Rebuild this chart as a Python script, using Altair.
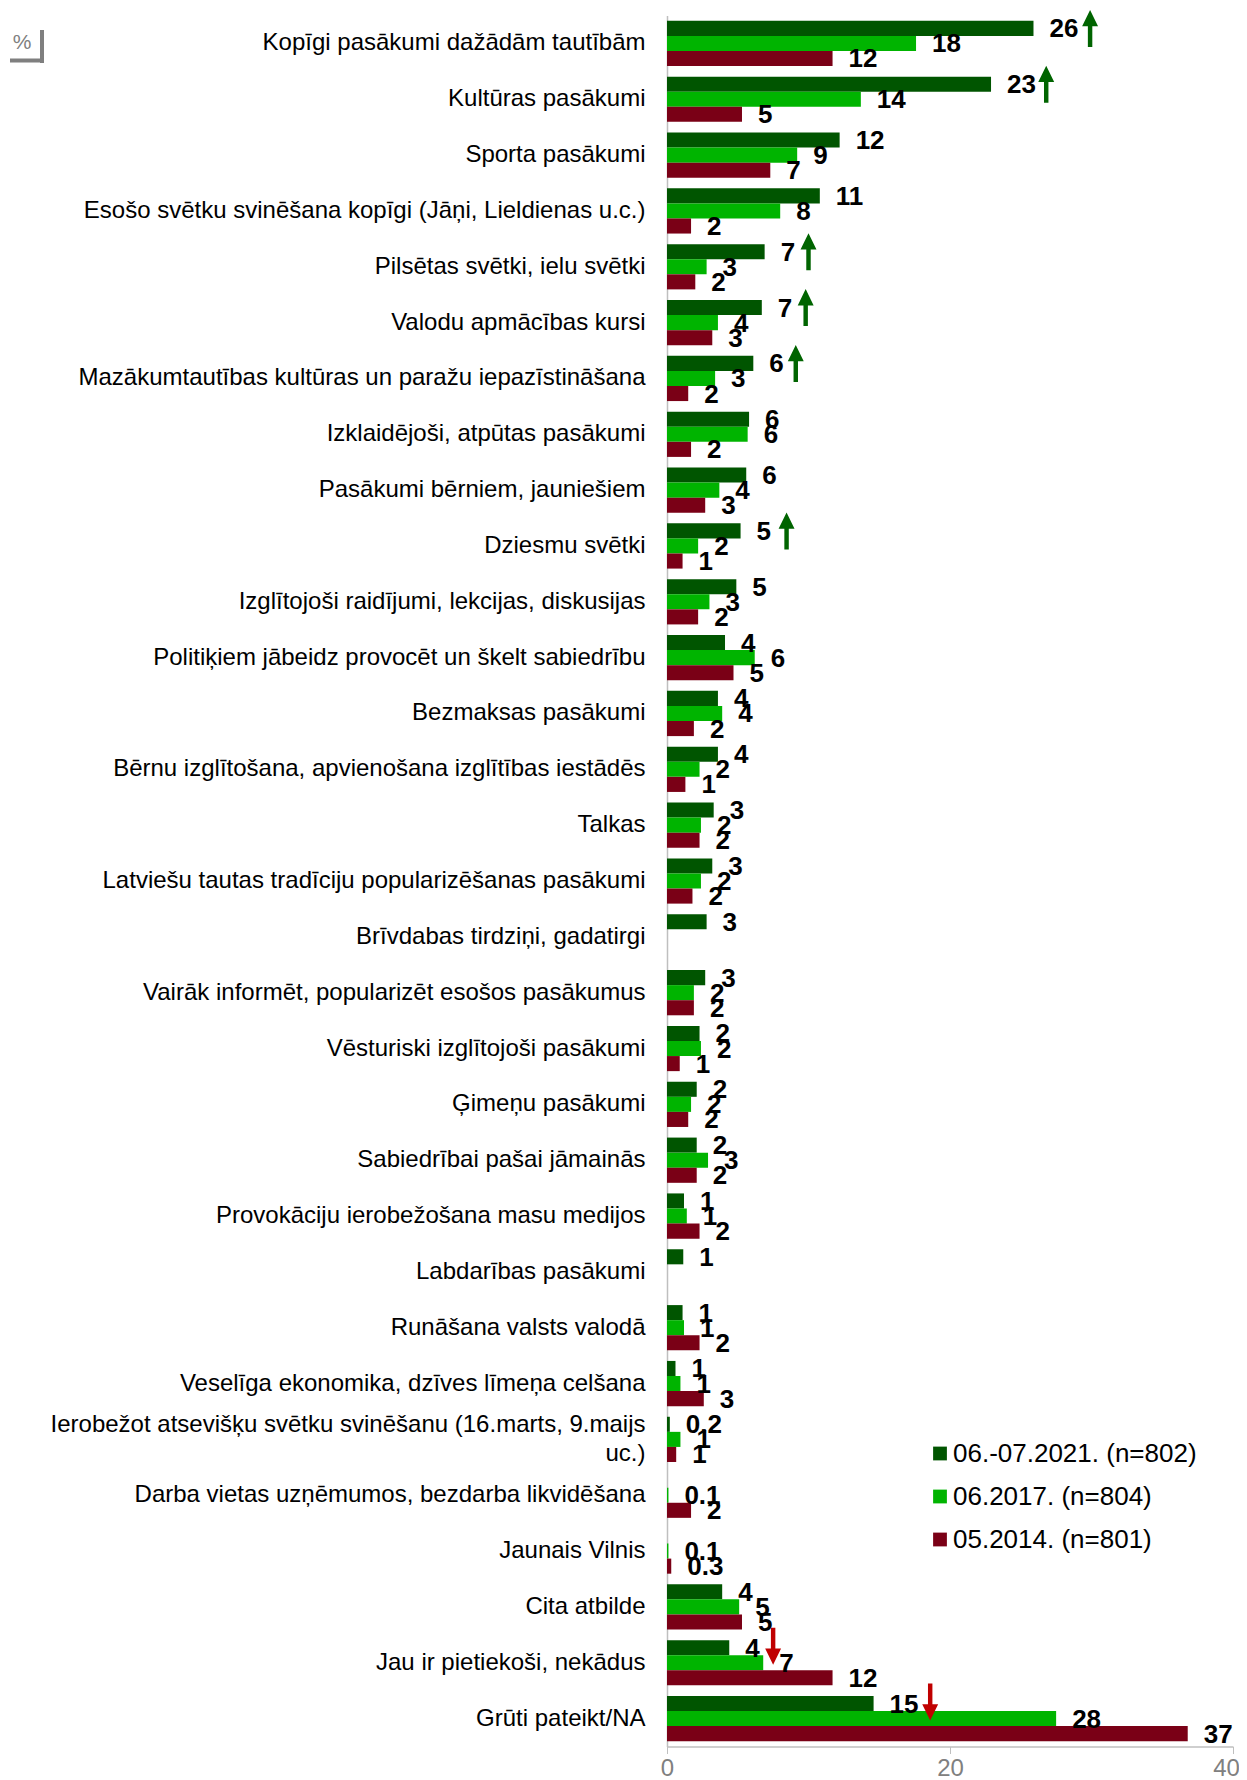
import altair as alt
import pandas as pd

categories = [
    "Kopīgi pasākumi dažādām tautībām",
    "Kultūras pasākumi",
    "Sporta pasākumi",
    "Esošo svētku svinēšana kopīgi (Jāņi, Lieldienas u.c.)",
    "Pilsētas svētki, ielu svētki",
    "Valodu apmācības kursi",
    "Mazākumtautības kultūras un paražu iepazīstināšana",
    "Izklaidējoši, atpūtas pasākumi",
    "Pasākumi bērniem, jauniešiem",
    "Dziesmu svētki",
    "Izglītojoši raidījumi, lekcijas, diskusijas",
    "Politiķiem jābeidz provocēt un škelt sabiedrību",
    "Bezmaksas pasākumi",
    "Bērnu izglītošana, apvienošana izglītības iestādēs",
    "Talkas",
    "Latviešu tautas tradīciju popularizēšanas pasākumi",
    "Brīvdabas tirdziņi, gadatirgi",
    "Vairāk informēt, popularizēt esošos pasākumus",
    "Vēsturiski izglītojoši pasākumi",
    "Ģimeņu pasākumi",
    "Sabiedrībai pašai jāmainās",
    "Provokāciju ierobežošana masu medijos",
    "Labdarības pasākumi",
    "Runāšana valsts valodā",
    "Veselīga ekonomika, dzīves līmeņa celšana",
    "Ierobežot atsevišķu svētku svinēšanu (16.marts, 9.maijs|uc.)",
    "Darba vietas uzņēmumos, bezdarba likvidēšana",
    "Jaunais Vilnis",
    "Cita atbilde",
    "Jau ir pietiekoši, nekādus",
    "Grūti pateikt/NA",
]

series = ["06.-07.2021. (n=802)", "06.2017. (n=804)", "05.2014. (n=801)"]
colors = ["#005500", "#00b400", "#7a0016"]

v2021 = [25.9, 22.9, 12.2, 10.8, 6.9, 6.7, 6.1, 5.8, 5.6, 5.2, 4.9, 4.1, 3.6, 3.6, 3.3, 3.2,
         2.8, 2.7, 2.3, 2.1, 2.1, 1.2, 1.15, 1.1, 0.6, 0.2, None, None, 3.9, 4.4, 14.6]
v2017 = [17.6, 13.7, 9.2, 8.0, 2.8, 3.6, 3.4, 5.7, 3.7, 2.2, 3.0, 6.2, 3.9, 2.3, 2.4, 2.4,
         None, 1.9, 2.4, 1.7, 2.9, 1.4, None, 1.2, 0.95, 0.95, 0.1, 0.1, 5.1, 6.8, 27.5]
v2014 = [11.7, 5.3, 7.3, 1.7, 2.0, 3.2, 1.5, 1.7, 2.7, 1.1, 2.2, 4.7, 1.9, 1.3, 2.3, 1.8,
         None, 1.9, 0.9, 1.5, 2.1, 2.3, None, 2.3, 2.6, 0.65, 1.7, 0.3, 5.3, 11.7, 36.8]

l2021 = ["26", "23", "12", "11", "7", "7", "6", "6", "6", "5", "5", "4", "4", "4", "3", "3",
         "3", "3", "2", "2", "2", "1", "1", "1", "1", "0.2", "", "", "4", "4", "15"]
l2017 = ["18", "14", "9", "8", "3", "4", "3", "6", "4", "2", "3", "6", "4", "2", "2", "2",
         "", "2", "2", "2", "3", "1", "", "1", "1", "1", "0.1", "0.1", "5", "7", "28"]
l2014 = ["12", "5", "7", "2", "2", "3", "2", "2", "3", "1", "2", "5", "2", "1", "2", "2",
         "", "2", "1", "2", "2", "2", "", "2", "3", "1", "2", "0.3", "5", "12", "37"]

up_cats = ["Kopīgi pasākumi dažādām tautībām", "Kultūras pasākumi", "Pilsētas svētki, ielu svētki",
           "Valodu apmācības kursi", "Mazākumtautības kultūras un paražu iepazīstināšana", "Dziesmu svētki"]
up_x = [29.9, 26.8, 10.0, 9.8, 9.1, 8.45]
down_cats = ["Jau ir pietiekoši, nekādus", "Grūti pateikt/NA"]
down_x = [7.5, 18.6]

FONT = "Liberation Sans"

rows = []
for i, c in enumerate(categories):
    for s, vals, labs in zip(series, [v2021, v2017, v2014], [l2021, l2017, l2014]):
        if vals[i] is None:
            continue
        rows.append({"cat": c, "series": s, "value": vals[i], "label": labs[i]})
df = pd.DataFrame(rows)

up_df = pd.DataFrame({"cat": up_cats, "ax": up_x})
down_df = pd.DataFrame({"cat": down_cats, "ax": down_x})

up_path = "M0,-1L0.43,-0.12L0.12,-0.12L0.12,1L-0.12,1L-0.12,-0.12L-0.43,-0.12Z"
down_path = "M0,1L0.43,0.12L0.12,0.12L0.12,-1L-0.12,-1L-0.12,0.12L-0.43,0.12Z"

y_enc = alt.Y(
    "cat:N",
    scale=alt.Scale(domain=categories, paddingInner=0.19, paddingOuter=0.095, round=False),
    axis=alt.Axis(
        title=None, ticks=False, labelFontSize=24, labelColor="black", labelFont=FONT,
        labelPadding=22, labelLimit=800, domainColor="#bfbfbf", domainWidth=1.5,
        labelExpr="split(datum.label, '|')", labelLineHeight=28.5,
        labelOffset={"condition": {"test": "indexof(datum.value, '|') >= 0", "value": -14}, "value": 0},
    ),
)
x_enc = alt.X(
    "value:Q",
    scale=alt.Scale(domain=[0, 40], nice=False),
    axis=alt.Axis(
        values=[0, 20, 40], grid=False, title=None, labelFontSize=24, labelColor="#808080",
        labelFont=FONT, domainColor="#bfbfbf", tickColor="#bfbfbf", tickSize=7, labelPadding=3,
        domainWidth=1.5, labelFlush=False,
        labelOffset={"condition": {"test": "datum.value == 40", "value": -7}, "value": 0},
    ),
)
yoff = alt.YOffset("series:N", scale=alt.Scale(domain=series, paddingInner=0, paddingOuter=0, round=False))

bars = alt.Chart(df).mark_bar().encode(
    x=x_enc,
    y=y_enc,
    yOffset=yoff,
    color=alt.Color(
        "series:N",
        scale=alt.Scale(domain=series, range=colors),
        legend=alt.Legend(
            orient="none", legendX=260, legendY=1425, title=None, symbolType="square",
            symbolSize=190, labelFontSize=26, labelFont=FONT, labelColor="black",
            rowPadding=17, labelOffset=0, padding=0, symbolStrokeWidth=0, symbolOpacity=1,
            labelLimit=600,
        ),
    ),
)

labels = alt.Chart(df).mark_text(
    align="left", baseline="middle", dx=16, dy=1, fontSize=26, fontWeight="bold",
    font=FONT, color="black",
).encode(x="value:Q", y="cat:N", yOffset=yoff, text="label:N")

arrows_up = alt.Chart(up_df).mark_point(
    filled=True, size=1369, opacity=1, strokeWidth=0, color="#006400", shape=up_path, yOffset=-15,
).encode(x="ax:Q", y="cat:N")

arrows_down = alt.Chart(down_df).mark_point(
    filled=True, size=1369, opacity=1, strokeWidth=0, color="#c00000", shape=down_path, yOffset=-16.5,
).encode(x="ax:Q", y="cat:N")

one = pd.DataFrame({"t": ["%"]})
pct = alt.Chart(one).mark_text(
    fontSize=21, color="#7f7f7f", font=FONT, align="center", baseline="middle"
).encode(x=alt.value(-645), y=alt.value(27), text="t:N")
box_r = alt.Chart(one).mark_rule(color="#7f7f7f", strokeWidth=4).encode(
    x=alt.value(-625), y=alt.value(14.5), y2=alt.value(47.5)
)
box_b = alt.Chart(one).mark_rule(color="#7f7f7f", strokeWidth=4).encode(
    x=alt.value(-657), x2=alt.value(-623), y=alt.value(45)
)

chart = alt.layer(bars, labels, arrows_up, arrows_down, pct, box_r, box_b).properties(
    width=566,
    height=1731,
    padding={"left": 659, "top": 7.5, "right": 6, "bottom": 40},
    autosize=alt.AutoSizeParams(type="none"),
).configure_view(stroke=None)

chart.save("out.html", embed_options={"renderer": "svg", "actions": False})
